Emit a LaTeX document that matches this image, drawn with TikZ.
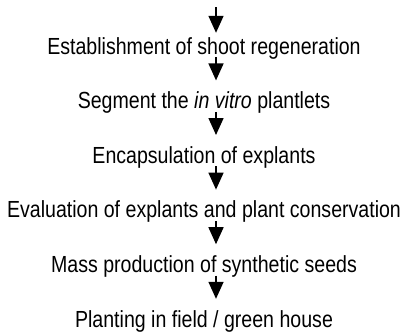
\documentclass[tikz,border=0pt]{standalone}
\usepackage{fontspec}
\setmainfont{Liberation Sans}[FakeStretch=0.84]
\usetikzlibrary{arrows.meta}
\usetikzlibrary{positioning}

\begin{document}
\begin{tikzpicture}[
        x=1pt, y=1pt,
        every node/.append style={inner sep=0pt, text height=17pt, text depth=5pt, align=center, font=\fontsize{23.3}{28}\selectfont},
        node distance=32.2pt,
        flow/.style={-{Triangle[width=15pt,length=17pt]}, line width=1.5pt, shorten >=11pt}
    ]
        \useasboundingbox (0,0) rectangle (404,-332);

        \node (1) [anchor=base] at (204,-54) {Establishment of shoot regeneration};
        \node (2) [below=of 1] {Segment the \textit{in vitro} plantlets};
        \node (3) [below=of 2] {Encapsulation of explants};
        \node (4) [below=of 3] {Evaluation of explants and plant conservation};
        \node (5) [below=of 4] {Mass production of synthetic seeds};
        \node (6) [below=of 5] {Planting in field / green house};

        \coordinate (0) at (216,-7);

        \draw [flow] (0) -- ([xshift=12pt,yshift=-7pt]1.north);
        \draw [flow] ([xshift=12pt,yshift=2pt]1.south) -- ([xshift=12pt]2.north);
        \draw [flow] ([xshift=12pt,yshift=2pt]2.south) -- ([xshift=12pt]3.north);
        \draw [flow] ([xshift=12pt,yshift=2pt]3.south) -- ([xshift=12pt]4.north);
        \draw [flow] ([xshift=12pt,yshift=2pt]4.south) -- ([xshift=12pt]5.north);
        \draw [flow] ([xshift=12pt,yshift=2pt]5.south) -- ([xshift=12pt]6.north);
    \end{tikzpicture}
\end{document}
